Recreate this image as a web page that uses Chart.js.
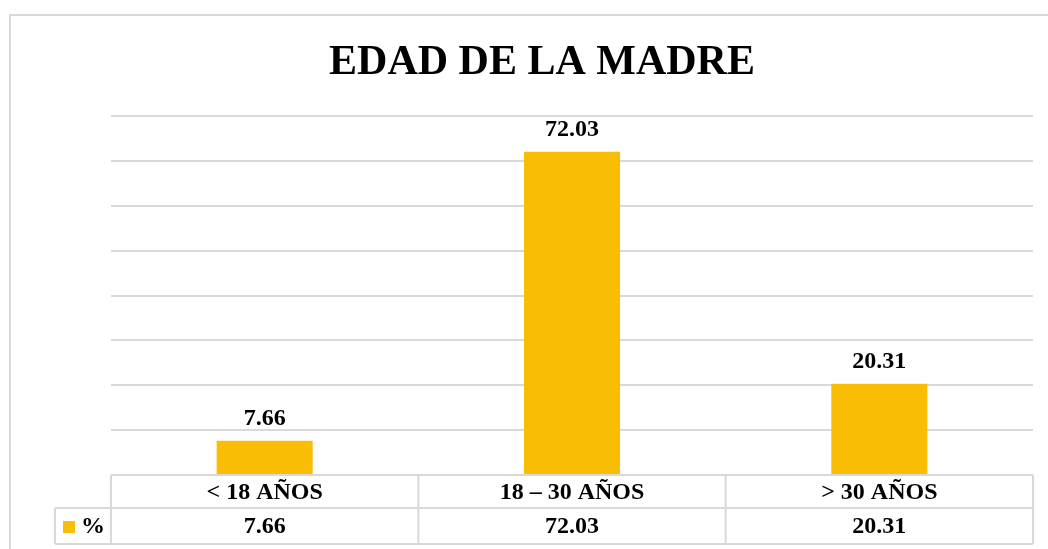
<!DOCTYPE html>
<html>
<head>
<meta charset="utf-8">
<script src="https://cdn.jsdelivr.net/npm/chart.js@4/dist/chart.umd.min.js"></script>
<style>
  html, body { margin: 0; padding: 0; background: #ffffff; }
  #wrap { width: 1048px; height: 549px; position: relative; }
</style>
</head>
<body>
<div id="wrap"><canvas id="c" width="1048" height="549"></canvas></div>
<script>
const chartTitle = "EDAD DE LA MADRE";
const categories = ["< 18 AÑOS", "18 – 30 AÑOS", "> 30 AÑOS"];
const seriesName = "%";
const values = [7.66, 72.03, 20.31];
const valueLabels = ["7.66", "72.03", "20.31"];
const yMin = 0, yMax = 80, yStep = 10;

const BAR = '#F9BD05';
const GRID = '#d9d9d9';
const SERIF = '"Liberation Serif", "Times New Roman", serif';

const tablePlugin = {
  id: 'tablePlugin',
  afterDraw(chart) {
    const ctx = chart.ctx;
    const ca = chart.chartArea;
    const xs = chart.scales.x;
    ctx.save();

    // outer chart border
    ctx.strokeStyle = GRID;
    ctx.lineWidth = 2;
    ctx.beginPath();
    ctx.moveTo(10, 560);
    ctx.lineTo(10, 15);
    ctx.lineTo(1060, 15);
    ctx.stroke();

    // title
    ctx.fillStyle = '#000';
    ctx.font = 'bold 42px ' + SERIF;
    ctx.textAlign = 'center';
    ctx.textBaseline = 'alphabetic';
    ctx.fillText(chartTitle, 542, 74);

    // data labels
    ctx.font = 'bold 24px ' + SERIF;
    const meta = chart.getDatasetMeta(0);
    meta.data.forEach((bar, i) => {
      ctx.fillText(valueLabels[i], bar.x, bar.y - 16);
    });

    // data table
    const row1Top = ca.bottom;
    const row1Bot = 508;
    const row2Bot = 544;
    const legLeft = 55;
    const n = categories.length;
    const bounds = [];
    for (let i = 0; i <= n; i++) {
      if (i === 0) bounds.push(ca.left);
      else if (i === n) bounds.push(ca.right);
      else bounds.push((xs.getPixelForValue(i - 1) + xs.getPixelForValue(i)) / 2);
    }
    ctx.strokeStyle = GRID;
    ctx.lineWidth = 2;
    ctx.beginPath();
    ctx.moveTo(ca.left, row1Top); ctx.lineTo(ca.right, row1Top);
    ctx.moveTo(legLeft, row1Bot); ctx.lineTo(ca.right, row1Bot);
    ctx.moveTo(legLeft, row2Bot); ctx.lineTo(ca.right, row2Bot);
    bounds.forEach(b => { ctx.moveTo(b, row1Top); ctx.lineTo(b, row2Bot); });
    ctx.moveTo(legLeft, row1Bot); ctx.lineTo(legLeft, row2Bot);
    ctx.stroke();

    ctx.fillStyle = '#000';
    ctx.font = 'bold 24px ' + SERIF;
    ctx.textBaseline = 'middle';
    ctx.textAlign = 'center';
    for (let i = 0; i < n; i++) {
      const cx = xs.getPixelForValue(i);
      ctx.fillText(categories[i], cx, (row1Top + row1Bot) / 2 + 1);
      ctx.fillText(valueLabels[i], cx, (row1Bot + row2Bot) / 2 + 1);
    }
    // legend key
    ctx.fillStyle = BAR;
    ctx.fillRect(63, 521, 12, 12);
    ctx.fillStyle = '#000';
    ctx.textAlign = 'left';
    ctx.fillText(seriesName, 81, (row1Bot + row2Bot) / 2 + 1);

    ctx.restore();
  }
};

new Chart(document.getElementById('c'), {
  type: 'bar',
  data: {
    labels: categories,
    datasets: [{
      label: seriesName,
      data: values,
      backgroundColor: BAR,
      borderWidth: 0,
      categoryPercentage: 1.0,
      barPercentage: 0.3125
    }]
  },
  options: {
    responsive: false,
    animation: false,
    devicePixelRatio: 1,
    layout: { padding: { left: 111, right: 15, top: 116, bottom: 74 } },
    plugins: {
      legend: { display: false },
      title: { display: false },
      tooltip: { enabled: false }
    },
    scales: {
      x: { display: false, offset: true },
      y: {
        min: yMin, max: yMax,
        ticks: { display: false, stepSize: yStep },
        grid: { color: GRID, lineWidth: 2, drawTicks: false },
        border: { display: false }
      }
    }
  },
  plugins: [tablePlugin]
});
</script>
</body>
</html>
